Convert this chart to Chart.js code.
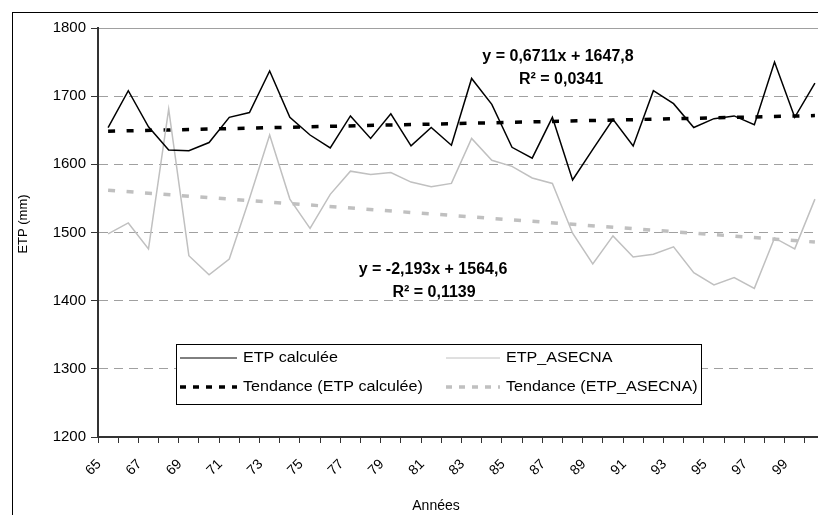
<!DOCTYPE html>
<html lang="fr">
<head>
<meta charset="utf-8">
<title>ETP calculée / ETP_ASECNA</title>
<script src="https://cdn.jsdelivr.net/npm/chart.js@4.4.1/dist/chart.umd.min.js"></script>
<style>
  html, body { margin: 0; padding: 0; background: #fff; overflow: hidden; }
  #wrap { position: relative; width: 840px; height: 530px; }
</style>
</head>
<body>
<div id="wrap"><canvas id="etpChart" width="840" height="530"></canvas></div>
<script>
const annees = ['65', '66', '67', '68', '69', '70', '71', '72', '73', '74', '75', '76',
  '77', '78', '79', '80', '81', '82', '83', '84', '85', '86', '87', '88',
  '89', '90', '91', '92', '93', '94', '95', '96', '97', '98', '99', '00']

const etpCalculee = [1654, 1708, 1655, 1621, 1620, 1632, 1669, 1676, 1737, 1669, 1643, 1624,
  1671, 1638, 1674, 1627, 1654, 1628, 1726, 1688, 1625, 1609, 1669, 1577,
  1622, 1666, 1627, 1708, 1689, 1654, 1667, 1671, 1658, 1750, 1669, 1719]

const etpAsecna = [1498, 1514, 1476, 1681, 1466, 1438, 1461, 1550, 1643, 1549, 1506, 1556,
  1590, 1585, 1588, 1574, 1567, 1572, 1638, 1606, 1597, 1580, 1572, 1499,
  1454, 1495, 1464, 1468, 1479, 1441, 1423, 1434, 1418, 1492, 1476, 1549]

// droites de tendance : valeurs lues au début et à la fin
const tendanceCalculee = [1648.5, 1671.5]
const tendanceAsecna = [1562, 1486]

const equationCalculee = ['y = 0,6711x + 1647,8', 'R² = 0,0341']
const equationAsecna = ['y = -2,193x + 1564,6', 'R² = 0,1139']

const yMin = 1200
const yMax = 1800
const yStep = 100

const FONT = "'Liberation Sans', Arial, sans-serif"
Chart.defaults.font.family = FONT
Chart.defaults.color = '#000'

// seulement le premier et le dernier point, reliés par spanGaps
const droite = (pair) => annees.map((a, i) => {
  if (i === 0) return pair[0]
  if (i === annees.length - 1) return pair[1]
  return null
})

// texte un peu élargi comme dans l'original Excel
function texteLarge (ctx, txt, x, y, sx) {
  ctx.save()
  ctx.translate(x, y)
  ctx.scale(sx, 1)
  ctx.fillText(txt, 0, 0)
  ctx.restore()
}

const habillage = {
  id: 'habillage',
  afterDraw (chart) {
    const ctx = chart.ctx
    ctx.save()

    // cadre du graphique (coupé à droite et en bas)
    ctx.strokeStyle = '#000'
    ctx.lineWidth = 1
    ctx.strokeRect(12.5, 12.5, 900, 600)

    // titres des axes
    ctx.fillStyle = '#000'
    ctx.font = '14px ' + FONT
    ctx.textAlign = 'center'
    ctx.textBaseline = 'middle'
    ctx.fillText('Années', 436, 506)
    ctx.save()
    ctx.translate(23, 224)
    ctx.rotate(-Math.PI / 2)
    ctx.font = '13px ' + FONT
    ctx.fillText('ETP (mm)', 0, 0)
    ctx.restore()

    // équations des tendances
    ctx.font = 'bold 16px ' + FONT
    ctx.fillText(equationCalculee[0], 558, 57)
    ctx.fillText(equationCalculee[1], 561, 80)
    ctx.fillText(equationAsecna[0], 433, 270)
    ctx.fillText(equationAsecna[1], 434, 293)

    // légende
    ctx.fillStyle = '#fff'
    ctx.fillRect(176.5, 344.5, 525, 60)
    ctx.strokeStyle = '#000'
    ctx.lineWidth = 1
    ctx.strokeRect(176.5, 344.5, 525, 60)

    const places = [
      { x1: 180, x2: 237, tx: 243, y: 358 },
      { x1: 446, x2: 500, tx: 506, y: 358 },
      { x1: 180, x2: 237, tx: 243, y: 387 },
      { x1: 446, x2: 500, tx: 506, y: 387 }
    ]
    ctx.font = '14px ' + FONT
    ctx.textAlign = 'left'
    chart.data.datasets.forEach((ds, i) => {
      const p = places[i]
      ctx.save()
      ctx.strokeStyle = ds.borderColor
      ctx.lineWidth = ds.borderDash ? ds.borderWidth : 1
      ctx.setLineDash(ds.borderDash ? [6, 7] : [])
      ctx.beginPath()
      ctx.moveTo(p.x1, p.y)
      ctx.lineTo(p.x2, p.y)
      ctx.stroke()
      ctx.restore()
      ctx.fillStyle = '#000'
      texteLarge(ctx, ds.label, p.tx, p.y, 1.15)
    })

    ctx.restore()
  }
}

const chart = new Chart(document.getElementById('etpChart'), {
  type: 'line',
  data: {
    labels: annees,
    datasets: [
      { label: 'ETP calculée', data: etpCalculee, borderColor: '#000', borderWidth: 1.5 },
      { label: 'ETP_ASECNA', data: etpAsecna, borderColor: '#c0c0c0', borderWidth: 1.5 },
      { label: 'Tendance (ETP calculée)', data: droite(tendanceCalculee), borderColor: '#000', borderWidth: 3.5, borderDash: [7, 11.5], spanGaps: true },
      { label: 'Tendance (ETP_ASECNA)', data: droite(tendanceAsecna), borderColor: '#c0c0c0', borderWidth: 3.5, borderDash: [7, 11.5], spanGaps: true }
    ]
  },
  options: {
    responsive: false,
    animation: false,
    layout: { padding: { top: 28, right: 14, bottom: 0, left: 0 } },
    elements: {
      point: { radius: 0 },
      line: { tension: 0, borderCapStyle: 'butt' }
    },
    plugins: {
      legend: { display: false },
      tooltip: { enabled: false }
    },
    scales: {
      x: {
        offset: true,
        grid: { offset: true, drawOnChartArea: false, tickLength: 6, tickColor: '#333' },
        border: { color: '#333', width: 2 },
        ticks: {
          autoSkip: false,
          maxRotation: 45,
          minRotation: 45,
          padding: 13,
          labelOffset: -9,
          font: { size: 14 },
          callback: (v, i) => (i % 2 === 0 ? annees[i] : '')
        },
        afterFit: (scale) => { scale.height = 93 }
      },
      y: {
        min: yMin,
        max: yMax,
        ticks: {
          stepSize: yStep,
          padding: 5,
          font: { size: 15 },
          callback: (v) => String(v)
        },
        grid: { color: '#a0a0a0', tickColor: '#333', tickLength: 7 },
        border: {
          color: '#333',
          width: 2,
          dash: (c) => (c.tick && c.tick.value === yMax ? [] : [9, 6])
        },
        afterFit: (scale) => { scale.width = 98 }
      }
    }
  },
  plugins: [habillage]
})
</script>
</body>
</html>
